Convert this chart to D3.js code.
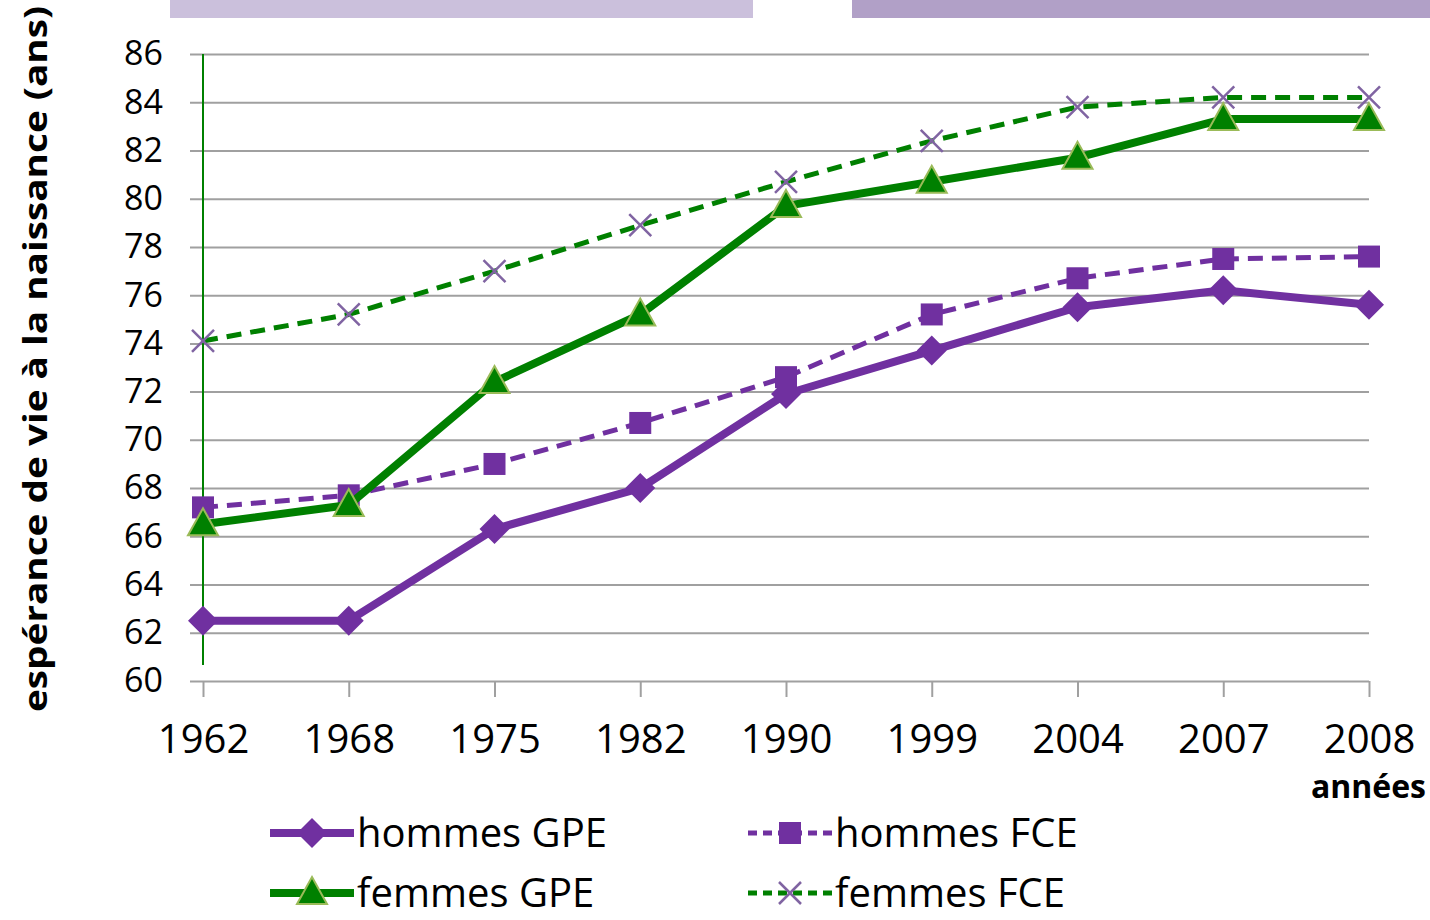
<!DOCTYPE html>
<html>
<head>
<meta charset="utf-8">
<script src="https://cdn.jsdelivr.net/npm/d3@7"></script>
<style>
  body { margin: 0; background: #fff; }
  text { font-family: "Open Sans", sans-serif; }
</style>
</head>
<body>
<div id="chart"></div>
<script>
// Data
const years = ['1962', '1968', '1975', '1982', '1990', '1999', '2004', '2007', '2008']
const hommesGPE = [62.5, 62.5, 66.3, 68.0, 71.9, 73.7, 75.5, 76.2, 75.6]
const hommesFCE = [67.2, 67.7, 69.0, 70.7, 72.6, 75.2, 76.7, 77.5, 77.6]
const femmesGPE = [66.5, 67.3, 72.4, 75.2, 79.7, 80.7, 81.7, 83.3, 83.3]
const femmesFCE = [74.1, 75.2, 77.0, 78.9, 80.7, 82.4, 83.8, 84.2, 84.2]
const yTicks = [60, 62, 64, 66, 68, 70, 72, 74, 76, 78, 80, 82, 84, 86]

const purple = '#7030a0', green = '#008000'

const width = 1430, height = 920
const plot = { left: 203, right: 1369, top: 54, bottom: 681 }

let svg = d3.select('#chart').append('svg')
  .attr('width', width)
  .attr('height', height)

// header bars
svg.append('rect').attr('x', 170).attr('y', 0).attr('width', 583).attr('height', 18).attr('fill', '#cbc0dc')
svg.append('rect').attr('x', 852).attr('y', 0).attr('width', 578).attr('height', 18).attr('fill', '#b1a0c7')

let x = d3.scalePoint().domain(years).range([plot.left, plot.right])
let y = d3.scaleLinear().domain([60, 86]).range([plot.bottom, plot.top])

// gridlines + y labels
let yAxis = d3.axisLeft(y).tickValues(yTicks).tickSize(-(plot.right - plot.left + 13)).tickPadding(28)
let gy = svg.append('g').attr('transform', `translate(${plot.left - 13},0)`).call(yAxis)
gy.select('.domain').remove()
gy.selectAll('.tick line').attr('stroke', '#a0a0a0').attr('stroke-width', 2)
  .attr('x1', 0).attr('x2', plot.right - plot.left + 13)
gy.selectAll('.tick text').attr('font-size', 34).attr('fill', '#000')
  .attr('text-anchor', 'start').attr('x', 124 - (plot.left - 13))

// green vertical axis
svg.append('line').attr('x1', plot.left).attr('x2', plot.left)
  .attr('y1', plot.top).attr('y2', 665).attr('stroke', green).attr('stroke-width', 2)

// x axis
let xAxis = d3.axisBottom(x).tickSize(16).tickPadding(28)
let gx = svg.append('g').attr('transform', `translate(0,${plot.bottom})`).call(xAxis)
gx.select('.domain').remove()
gx.selectAll('.tick line').attr('stroke', '#a0a0a0').attr('stroke-width', 2)
gx.selectAll('.tick text').attr('font-size', 40).attr('fill', '#000')

svg.append('text').attr('x', 1426).attr('y', 798).attr('text-anchor', 'end')
  .attr('font-size', 32).attr('font-weight', 'bold').text('années')

// y title
svg.append('text')
  .attr('transform', `translate(47,${(5 + 713) / 2}) rotate(-90)`)
  .attr('text-anchor', 'middle').attr('font-size', 32).attr('font-weight', 'bold')
  .attr('textLength', 706).attr('lengthAdjust', 'spacingAndGlyphs')
  .text('espérance de vie à la naissance (ans)')

// series
const series = [
  { name: 'hommes GPE', values: hommesGPE, color: purple, width: 8, dash: null, marker: 'diamond' },
  { name: 'hommes FCE', values: hommesFCE, color: purple, width: 5, dash: '15,9', marker: 'square' },
  { name: 'femmes GPE', values: femmesGPE, color: green, width: 8, dash: null, marker: 'triangle' },
  { name: 'femmes FCE', values: femmesFCE, color: green, width: 5, dash: '15,9', marker: 'cross' }
]

let line = d3.line().x(d => x(d.year)).y(d => y(d.v))

let drawMarker = (g, type, color) => {
  if (type === 'diamond') {
    g.append('path').attr('d', 'M0,-15L15,0L0,15L-15,0Z').attr('fill', purple)
  } else if (type === 'square') {
    g.append('rect').attr('x', -11).attr('y', -11).attr('width', 22).attr('height', 22).attr('fill', purple)
  } else if (type === 'triangle') {
    g.append('path').attr('d', 'M0,-16L15,11L-15,11Z').attr('fill', green)
      .attr('stroke', '#9bbb59').attr('stroke-width', 2)
  } else {
    g.append('path').attr('d', 'M-11,-11L11,11M-11,11L11,-11').attr('fill', 'none')
      .attr('stroke', '#8064a2').attr('stroke-width', 2.5)
  }
}

// draw order: dashed behind solid
const order = [series[1], series[3], series[0], series[2]]
order.forEach(s => {
  let pts = years.map((yr, i) => ({ year: yr, v: s.values[i] }))
  svg.append('path').datum(pts).attr('d', line)
    .attr('fill', 'none').attr('stroke', s.color).attr('stroke-width', s.width)
    .attr('stroke-dasharray', s.dash).attr('stroke-linejoin', 'round')
  svg.append('g').selectAll('g').data(pts).enter().append('g')
    .attr('transform', d => `translate(${x(d.year)},${y(d.v)})`)
    .each(function () { drawMarker(d3.select(this), s.marker, s.color) })
})

// legend
const legendPos = [[270, 833], [748, 833], [270, 893], [748, 893]]
series.forEach((s, i) => {
  let [lx, ly] = legendPos[i]
  let g = svg.append('g').attr('transform', `translate(${lx},${ly})`)
  g.append('line').attr('x1', 0).attr('x2', 84).attr('y1', 0).attr('y2', 0)
    .attr('stroke', s.color).attr('stroke-width', s.width).attr('stroke-dasharray', s.dash ? '9,6' : null)
  let m = g.append('g').attr('transform', 'translate(42,0)')
  drawMarker(m, s.marker, s.color)
  g.append('text').attr('x', 87).attr('y', 14).attr('font-size', 40).text(s.name)
})
</script>
</body>
</html>
